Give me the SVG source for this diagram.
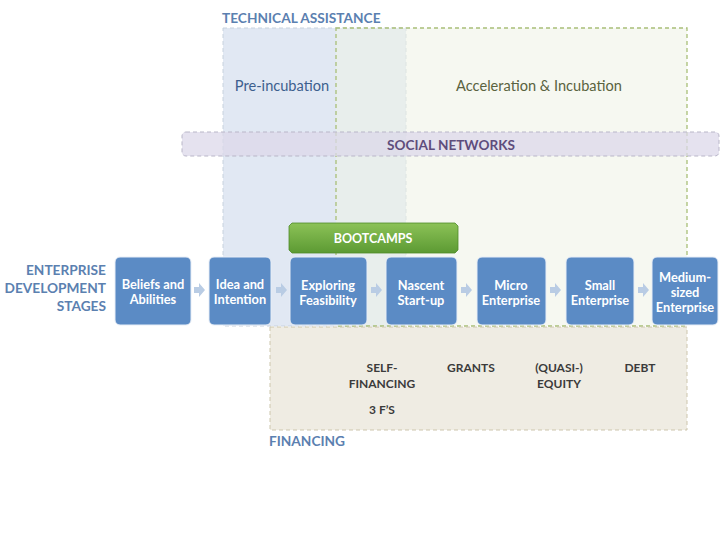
<svg xmlns="http://www.w3.org/2000/svg" width="720" height="540" viewBox="0 0 720 540">
<defs>
<style>
text{font-family:Lato,"Open Sans","Liberation Sans",sans-serif;}
.hdr{font-weight:bold;font-size:13.7px;fill:#5b80b0;}
.node rect{fill:#5b8bc5;stroke:#e8eef7;stroke-width:1;}
.node text{fill:#fff;font-weight:bold;font-size:12.8px;text-anchor:middle;}
.fin{fill:#3b3b3b;font-weight:bold;font-size:12px;text-anchor:middle;}
.arr{fill:#b9cce4;}
</style>
<linearGradient id="gb" x1="0" y1="0" x2="0" y2="1">
<stop offset="0" stop-color="#8cc257"/>
<stop offset="1" stop-color="#5c9a33"/>
</linearGradient>
</defs>
<rect width="720" height="540" fill="#fff"/>
<g id="technical-assistance">
<rect x="223" y="28" width="183" height="298" fill="#e1e8f3" stroke="#c8d2de" stroke-dasharray="4,3"/>
<text class="hdr" x="222" y="23">TECHNICAL ASSISTANCE</text>
<text x="282" y="91" font-size="14.6" fill="#3d5f8e" text-anchor="middle">Pre-incubation</text>
</g>
<g id="acceleration">
<rect x="336" y="28" width="351" height="298" fill="#eef3e6" fill-opacity="0.55" stroke="#a9bf78" stroke-dasharray="4,3" stroke-width="1.3"/>
<text x="539" y="91" font-size="14.6" fill="#5a6340" text-anchor="middle">Acceleration &amp; Incubation</text>
</g>
<g id="social-networks">
<rect x="182" y="132" width="537" height="24" rx="4" fill="#dcd8ea" fill-opacity="0.75" stroke="#b9b6c8" stroke-dasharray="4,3"/>
<text x="451" y="150" font-size="13.6" font-weight="bold" fill="#5e4d7c" text-anchor="middle">SOCIAL NETWORKS</text>
</g>
<g id="financing">
<rect x="270" y="327" width="417" height="103" fill="#efece3" stroke="#cdc6ad" stroke-dasharray="4,3"/>
<text class="hdr" x="269" y="446">FINANCING</text>
<text class="fin" x="382" y="372">SELF-</text>
<text class="fin" x="382" y="388">FINANCING</text>
<text class="fin" x="382" y="414">3 F’S</text>
<text class="fin" x="471" y="372">GRANTS</text>
<text class="fin" x="559" y="372">(QUASI-)</text>
<text class="fin" x="559" y="388">EQUITY</text>
<text class="fin" x="640" y="372">DEBT</text>
</g>
<g id="bootcamps">
<path d="M292,223 H455 L458,226 V250 L455,253 H292 L289,250 V226 Z" fill="url(#gb)" stroke="#4e8a2a" stroke-width="0.8"/>
<text x="373" y="243" font-size="12.5" font-weight="bold" fill="#fff" text-anchor="middle">BOOTCAMPS</text>
</g>
<g id="stages-label" class="hdr" text-anchor="end">
<text x="106" y="275">ENTERPRISE</text>
<text x="106" y="293">DEVELOPMENT</text>
<text x="106" y="311">STAGES</text>
</g>
<g id="connectors">
<path class="arr" d="M194,287 h5 v-4 l6,7 l-6,7 v-4 h-5 z"/>
<path class="arr" d="M276,287 h5 v-4 l6,7 l-6,7 v-4 h-5 z"/>
<path class="arr" d="M371,287 h5 v-4 l6,7 l-6,7 v-4 h-5 z"/>
<path class="arr" d="M461,287 h5 v-4 l6,7 l-6,7 v-4 h-5 z"/>
<path class="arr" d="M550,287 h5 v-4 l6,7 l-6,7 v-4 h-5 z"/>
<path class="arr" d="M638,287 h5 v-4 l6,7 l-6,7 v-4 h-5 z"/>
</g>
<g id="node-beliefs" class="node">
<rect x="115" y="257" width="76" height="68" rx="5"/>
<text x="153" y="289">Beliefs and</text>
<text x="153" y="304">Abilities</text>
</g>
<g id="node-idea" class="node">
<rect x="209" y="257" width="62" height="68" rx="5"/>
<text x="240" y="289">Idea and</text>
<text x="240" y="304">Intention</text>
</g>
<g id="node-exploring" class="node">
<rect x="290" y="257" width="77" height="68" rx="5"/>
<text x="328" y="290">Exploring</text>
<text x="328" y="305">Feasibility</text>
</g>
<g id="node-nascent" class="node">
<rect x="386" y="257" width="71" height="68" rx="5"/>
<text x="421" y="290">Nascent</text>
<text x="421" y="305">Start-up</text>
</g>
<g id="node-micro" class="node">
<rect x="477" y="257" width="69" height="68" rx="5"/>
<text x="511" y="290">Micro</text>
<text x="511" y="305">Enterprise</text>
</g>
<g id="node-small" class="node">
<rect x="566" y="257" width="68" height="68" rx="5"/>
<text x="600" y="290">Small</text>
<text x="600" y="305">Enterprise</text>
</g>
<g id="node-medium" class="node">
<rect x="652" y="257" width="66" height="68" rx="5"/>
<text x="685" y="282">Medium-</text>
<text x="685" y="297">sized</text>
<text x="685" y="312">Enterprise</text>
</g>
</svg>
